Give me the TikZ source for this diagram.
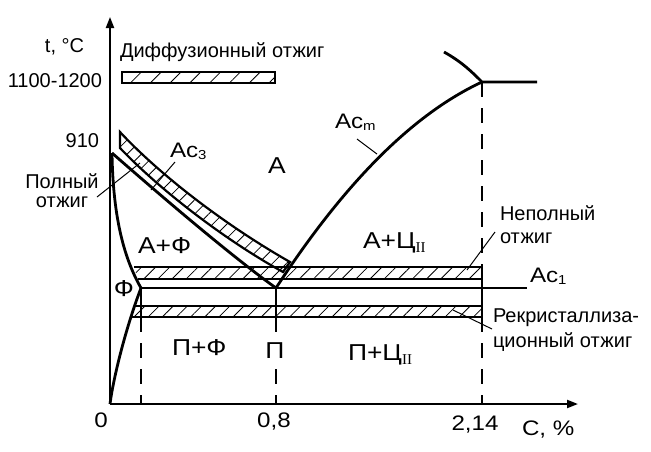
\documentclass[tikz,border=0pt]{standalone}
\usepackage{fontspec}
\setmainfont{Liberation Sans}
\newfontfamily\widefont[FakeStretch=1.15]{Liberation Sans}
\newfontfamily\romfont{Liberation Serif}
\usetikzlibrary{arrows.meta,patterns.meta}

\newcommand{\romII}{\raisebox{-4pt}{\romfont\fontsize{15}{15}\selectfont II}}
\newcommand{\acidx}[1]{\raisebox{-2pt}{\fontsize{13}{13}\selectfont #1}}

\begin{document}
\begin{tikzpicture}[x = 1pt, y = -1pt,
                    every node/.style = {inner sep=0pt, outer sep=0pt},
                    note/.style   = {font=\fontsize{20}{24}\selectfont},
                    ac/.style     = {font=\widefont\fontsize{21}{24}\selectfont},
                    region/.style = {font=\widefont\fontsize{23}{26}\selectfont},
                    axis/.style   = {line width=2pt, -{Triangle[length=11pt,width=8pt]}},
                    curve/.style  = {line width=2.8pt, line join=round},
                    band/.style   = {line width=2.2pt},
                    hatch/.style  = {pattern={Lines[angle=45,distance=10pt,line width=0.8pt]}},
                    hatchwide/.style = {pattern={Lines[angle=45,distance=14pt,line width=0.8pt]}},
                    guide/.style  = {line width=1.6pt, dash pattern=on 15pt off 11pt},
                    tie/.style    = {line width=1.3pt},
                    leader/.style = {line width=1pt}]
\useasboundingbox (0,0) rectangle (651,451);

\coordinate (O)    at (110,404);
\coordinate (ytip) at (110,17);
\coordinate (xtip) at (578,404);
\coordinate (G)    at (112,153);
\coordinate (P)    at (141,288);
\coordinate (S)    at (276,288);
\coordinate (E)    at (482,82);
\coordinate (Pl)   at (141,317);
\coordinate (Sl)   at (276,317);
\coordinate (Et)   at (482,267);
\coordinate (El)   at (482,317);
\coordinate (Px)   at (141,404);
\coordinate (Sx)   at (276,404);
\coordinate (Ex)   at (482,404);
\coordinate (A1)   at (527,288);

% bands
\draw[band,hatchwide] (122,72) rectangle (275,83);
\draw[band,hatch] (120,132) .. controls (160,175) and (225,225) .. (290,262)
      -- (283,272) .. controls (225,240) and (160,190) .. (120,148) -- cycle;
\draw[band,hatch] (134,267) -- (482,267) -- (482,279) -- (138,279);
\draw[band,hatch] (136,306) -- (482,306) -- (482,317) -- (131,317);

% lines
\draw[curve] (G) .. controls (160,195) and (230,255) .. (S);
\draw[curve] (G) .. controls (113,220) and (125,260) .. (P);
\draw[curve] (P) .. controls (125,330) and (113,380) .. (O);
\draw[curve] (S) .. controls (330,205) and (400,120) .. (E);
\draw[curve] (444,52) .. controls (462,62) and (472,72) .. (E) -- (537,82);
\draw[band] (P) -- (A1);

\draw[axis] (O) -- (ytip);
\draw[axis] (O) -- (xtip);

\draw[tie] (P) -- (Pl);
\draw[tie] (S) -- (Sl);
\draw[tie] (Et) -- (El);
\draw[guide] (Pl) -- (Px);
\draw[guide] (Sl) -- (Sx);
\draw[guide] (E) -- (Et);
\draw[guide] (El) -- (Ex);

% labels
\node[note, anchor=base west] (tC) at (45,52) {t, °C};
\node[note, anchor=base east] (t1100) at (102,87) {1100-1200};
\node[note, anchor=base east] (t910) at (99,147) {910};
\node[note, anchor=base west] (diff) at (120,57) {Диффузионный отжиг};
\node[note, anchor=base] (full1) at (62,188) {Полный};
\node[note, anchor=base] (full2) at (62,207) {отжиг};
\node[ac, anchor=base west] (ac3) at (170,157) {Ac\acidx{3}};
\node[ac, anchor=base west] (acm) at (335,128) {Ac\acidx{m}};
\node[ac, anchor=base west] (ac1) at (530,282) {Ac\acidx{1}};
\node[region, anchor=base] (austenite) at (277,173) {А};
\node[region, anchor=base west] (af) at (138,253) {А+Ф};
\node[region, anchor=center] (ferrite) at (124,289) {Ф};
\node[region, anchor=base west] (pf) at (172,355) {П+Ф};
\node[region, anchor=base, fill=white, inner ysep=4pt, inner xsep=1pt] (pearlite) at (275,358) {П};
\node[region, anchor=base west] (ac) at (363,248) {А+Ц\romII};
\node[region, anchor=base west] (pc) at (348,360) {П+Ц\romII};
\node[note, anchor=base west] (part1) at (500,220) {Неполный};
\node[note, anchor=base west] (part2) at (500,243) {отжиг};
\node[note, anchor=base west] (rec1) at (493,322) {Рекристаллиза-};
\node[note, anchor=base west] (rec2) at (493,347) {ционный отжиг};
\node[ac, anchor=base] (c0) at (101,427) {0};
\node[ac, anchor=base] (c08) at (274,427) {0,8};
\node[ac, anchor=base] (c214) at (475,430) {2,14};
\node[ac, anchor=base west] (cax) at (522,435) {C, \%};

% leaders
\coordinate (ac3a) at (175,162);  \coordinate (ac3b) at (151,190);
\coordinate (fulla) at (97,197);  \coordinate (fullb) at (140,163);
\coordinate (acma) at (357,139);  \coordinate (acmb) at (377,154);
\coordinate (parta) at (495,232); \coordinate (partb) at (467,270);
\coordinate (reca) at (453,310);  \coordinate (recb) at (492,329);
\draw[leader] (ac3a) -- (ac3b);
\draw[leader] (fulla) -- (fullb);
\draw[leader] (acma) -- (acmb);
\draw[leader] (parta) -- (partb);
\draw[leader] (reca) -- (recb);
\end{tikzpicture}
\end{document}
